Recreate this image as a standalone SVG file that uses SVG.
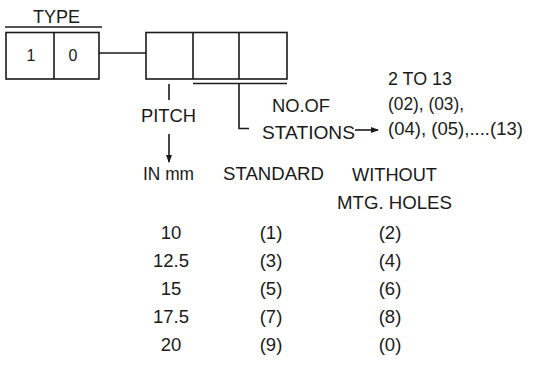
<svg xmlns="http://www.w3.org/2000/svg" width="533" height="365" viewBox="0 0 533 365">
<defs>
<marker id="ah" markerWidth="8" markerHeight="6" refX="7" refY="3" orient="auto" markerUnits="userSpaceOnUse">
<path d="M0,0 L8,3 L0,6 Z" fill="#1a1a1a"/>
</marker>
</defs>
<style>
.t{font-family:"Liberation Sans",Arial,sans-serif;font-size:18.5px;fill:#1a1a1a}
.m{text-anchor:middle}
.ln{stroke:#1a1a1a;stroke-width:1.6;fill:none}
</style>
<rect width="533" height="365" fill="#fff"/>
<g id="type">
<text class="t" x="33" y="23" textLength="47" lengthAdjust="spacingAndGlyphs">TYPE</text>
<line class="ln" x1="5" y1="27" x2="102" y2="27"/>
<rect class="ln" x="6" y="32.5" width="93" height="46.5"/>
<line class="ln" x1="54" y1="32.5" x2="54" y2="79"/>
<text class="t m" x="31" y="61" style="font-size:16px">1</text>
<text class="t m" x="73" y="61" style="font-size:16px">0</text>
</g>
<g id="code-boxes">
<rect class="ln" x="146" y="32.5" width="141" height="46.5"/>
<line class="ln" x1="193" y1="32.5" x2="193" y2="79"/>
<line class="ln" x1="239" y1="32.5" x2="239" y2="79"/>
</g>
<g id="connectors">
<line class="ln" x1="99" y1="53" x2="146" y2="53"/>
<line class="ln" x1="169" y1="84" x2="169" y2="100"/>
<line class="ln" x1="193" y1="83.5" x2="287" y2="83.5"/>
<polyline class="ln" points="239,83.5 239,128.5 249,128.5"/>
<line class="ln" x1="169" y1="134" x2="169" y2="162" marker-end="url(#ah)"/>
<line class="ln" x1="355" y1="130" x2="378" y2="130" marker-end="url(#ah)"/>
</g>
<g id="pitch">
<text class="t" x="141" y="122" textLength="55" lengthAdjust="spacingAndGlyphs">PITCH</text>
<text class="t" x="143" y="180" textLength="51" lengthAdjust="spacingAndGlyphs">IN mm</text>
</g>
<g id="stations">
<text class="t" x="272" y="112" textLength="58" lengthAdjust="spacingAndGlyphs">NO.OF</text>
<text class="t" x="262" y="139" textLength="93" lengthAdjust="spacingAndGlyphs">STATIONS</text>
<text class="t" x="388" y="85" textLength="64" lengthAdjust="spacingAndGlyphs">2 TO 13</text>
<text class="t" x="388" y="110" textLength="76" lengthAdjust="spacingAndGlyphs">(02), (03),</text>
<text class="t" x="388" y="135" textLength="135" lengthAdjust="spacingAndGlyphs">(04), (05),....(13)</text>
</g>
<g id="table">
<text class="t" x="223" y="180" textLength="101" lengthAdjust="spacingAndGlyphs">STANDARD</text>
<text class="t" x="352" y="181" textLength="85" lengthAdjust="spacingAndGlyphs">WITHOUT</text>
<text class="t" x="337" y="209" textLength="115" lengthAdjust="spacingAndGlyphs">MTG. HOLES</text>
<text class="t m" x="171" y="239">10</text>
<text class="t m" x="171" y="267">12.5</text>
<text class="t m" x="171" y="295">15</text>
<text class="t m" x="171" y="323">17.5</text>
<text class="t m" x="171" y="351">20</text>
<text class="t m" x="271" y="239">(1)</text>
<text class="t m" x="271" y="267">(3)</text>
<text class="t m" x="271" y="295">(5)</text>
<text class="t m" x="271" y="323">(7)</text>
<text class="t m" x="271" y="351">(9)</text>
<text class="t m" x="390" y="239">(2)</text>
<text class="t m" x="390" y="267">(4)</text>
<text class="t m" x="390" y="295">(6)</text>
<text class="t m" x="390" y="323">(8)</text>
<text class="t m" x="390" y="351">(0)</text>
</g>
</svg>
